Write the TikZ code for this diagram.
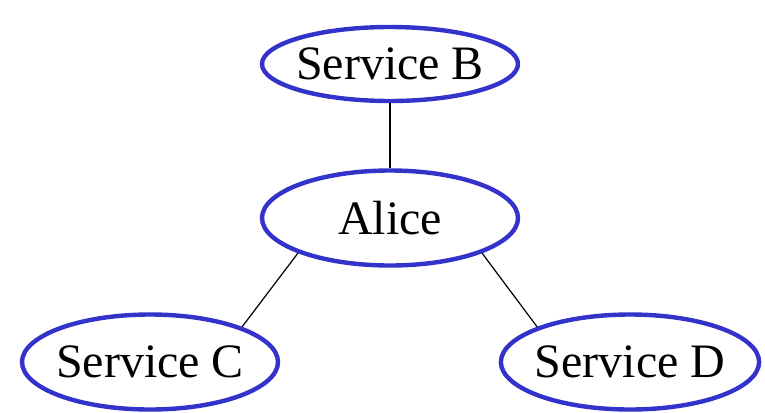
\documentclass[tikz,border=0pt]{standalone}
\usepackage{fontspec}
\setmainfont{Liberation Serif}
\usetikzlibrary{shapes}
\definecolor{svcblue}{RGB}{51,51,204}
\tikzstyle{service} = [ellipse, draw=svcblue, line width=3.3pt, minimum width=192pt, minimum height=55.5pt, inner xsep=-3pt, inner ysep=0pt, font=\fontsize{36}{43}\selectfont]
\tikzstyle{link} = [line width=0.9pt, color=black]

\begin{document}
\begin{tikzpicture}[x=0.75pt, y=-0.75pt]
    \useasboundingbox (0,0) rectangle (765,412);
    % Top service
    \node[service] (svcB) at (390,64) {Service B};

    % Central user
    \node[service, minimum height=71.25pt] (alice) at (390,218) {Alice};

    % Lower services
    \node[service, minimum height=71.25pt] (svcC) at (150,362) {Service C};
    \node[service, minimum height=71.25pt] (svcD) at (630,362) {Service D};

    % Links
    \draw[link] (svcB) -- (alice);
    \draw[link] (alice.south west) -- (svcC.north east);
    \draw[link] (alice.south east) -- (svcD.north west);
\end{tikzpicture}
\end{document}
